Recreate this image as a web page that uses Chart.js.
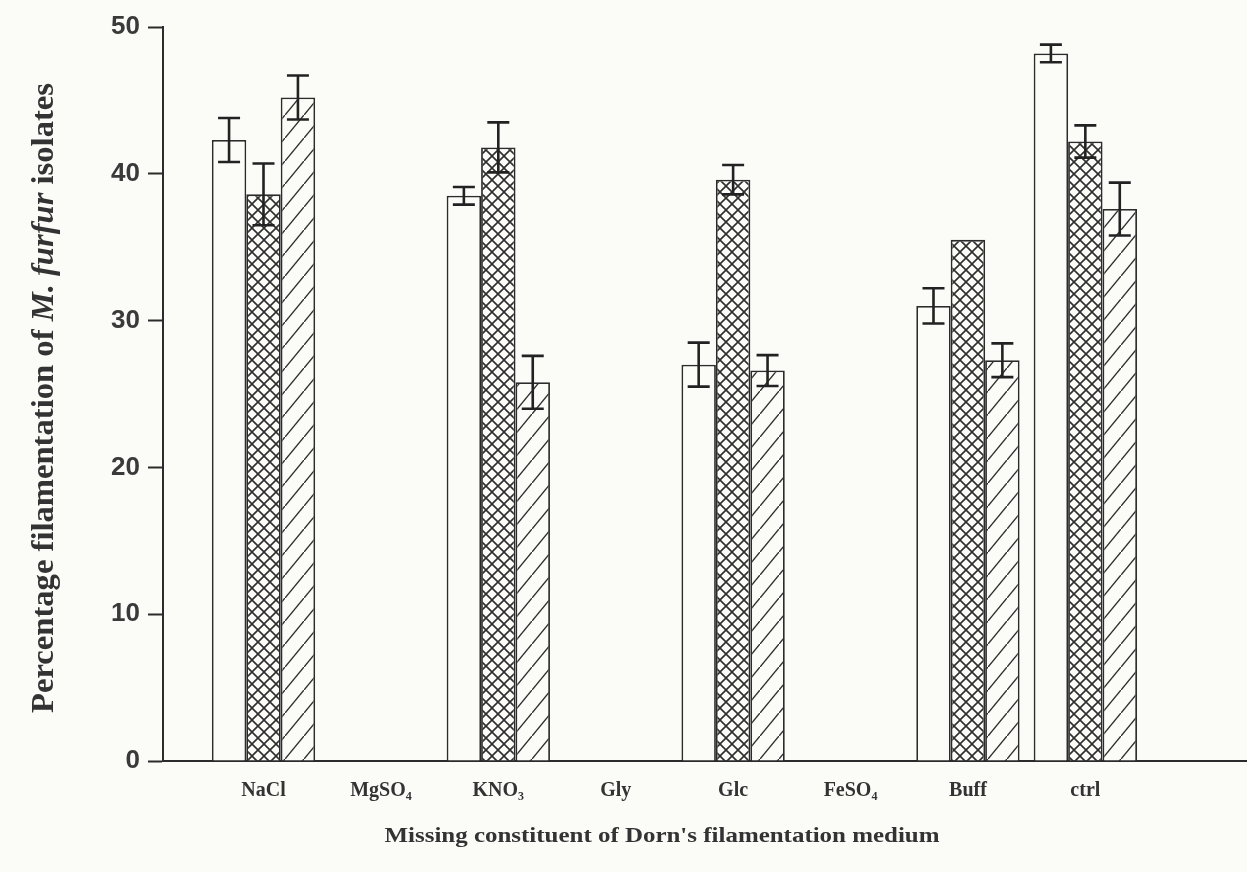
<!DOCTYPE html>
<html>
<head>
<meta charset="utf-8">
<script src="https://cdn.jsdelivr.net/npm/chart.js@4.4.1/dist/chart.umd.min.js"></script>
<style>
    body { margin: 0; background: #fbfbf8; }
    #contenedor { width: 1247px; height: 872px; }
</style>
</head>
<body>
<div id="contenedor"><canvas id="grafico" width="1247" height="872"></canvas></div>
<script>
// Datos
const categorias = ['NaCl', 'MgSO₄', 'KNO₃', 'Gly', 'Glc', 'FeSO₄', 'Buff', 'ctrl'];
const valoresBlanco = [42.3, null, 38.5, null, 27.0, null, 31.0, 48.2];
const erroresBlanco = [1.5, null, 0.6, null, 1.5, null, 1.2, 0.6];
const valoresCruzado = [38.6, null, 41.8, null, 39.6, null, 35.5, 42.2];
const erroresCruzado = [2.1, null, 1.7, null, 1.0, null, 0, 1.1];
const valoresRayado = [45.2, null, 25.8, null, 26.6, null, 27.3, 37.6];
const erroresRayado = [1.5, null, 1.8, null, 1.05, null, 1.15, 1.8];
const ticksY = [0, 10, 20, 30, 40, 50];

const colorLinea = '#2b2b2b';
const colorFondo = '#fbfbf8';

// Patron cuadriculado en diagonal (cross hatch)
function crearPatronCruzado() {
    const c = document.createElement('canvas');
    c.width = 12; c.height = 12;
    const ctx = c.getContext('2d');
    ctx.fillStyle = colorFondo;
    ctx.fillRect(0, 0, 12, 12);
    ctx.strokeStyle = '#2e2e2e';
    ctx.lineWidth = 1.6;
    ctx.beginPath();
    ctx.moveTo(-1, -1); ctx.lineTo(13, 13);
    ctx.moveTo(-1, 13); ctx.lineTo(13, -1);
    ctx.stroke();
    return ctx.createPattern(c, 'repeat');
}

// Patron de rayas diagonales
function crearPatronRayado() {
    const w = 19, h = 23;
    const c = document.createElement('canvas');
    c.width = w; c.height = h;
    const ctx = c.getContext('2d');
    ctx.fillStyle = colorFondo;
    ctx.fillRect(0, 0, w, h);
    ctx.strokeStyle = '#2e2e2e';
    ctx.lineWidth = 1.4;
    ctx.beginPath();
    ctx.moveTo(-w * 0.1, h * 1.1); ctx.lineTo(w * 1.1, -h * 0.1);
    ctx.stroke();
    return ctx.createPattern(c, 'repeat');
}

function puntos(valores) {
    return valores.map((v, i) => ({ x: i, y: v }));
}

// Barras de error
const pluginErrores = {
    id: 'barrasError',
    afterDatasetsDraw(chart) {
        const ctx = chart.ctx;
        const escalaY = chart.scales.y;
        const errores = [erroresBlanco, erroresCruzado, erroresRayado];
        const valores = [valoresBlanco, valoresCruzado, valoresRayado];
        ctx.save();
        ctx.strokeStyle = '#222';
        ctx.lineWidth = 2.6;
        errores.forEach((lista, d) => {
            const meta = chart.getDatasetMeta(d);
            lista.forEach((e, i) => {
                if (!e || valores[d][i] == null) return;
                const x = meta.data[i].x;
                const arriba = escalaY.getPixelForValue(valores[d][i] + e);
                const abajo = escalaY.getPixelForValue(valores[d][i] - e);
                ctx.beginPath();
                ctx.moveTo(x, arriba); ctx.lineTo(x, abajo);
                ctx.moveTo(x - 11, arriba); ctx.lineTo(x + 11, arriba);
                ctx.moveTo(x - 11, abajo); ctx.lineTo(x + 11, abajo);
                ctx.stroke();
            });
        });
        ctx.restore();
    }
};

// Titulos de los ejes (con cursiva en M. furfur)
const pluginTitulos = {
    id: 'titulos',
    afterDraw(chart) {
        const ctx = chart.ctx;
        ctx.save();
        ctx.fillStyle = '#333';
        ctx.textBaseline = 'middle';
        const partes = [
            ['Percentage filamentation of ', 'bold 31px "Liberation Serif"'],
            ['M. furfur', 'italic bold 31px "Liberation Serif"'],
            [' isolates', 'bold 31px "Liberation Serif"']
        ];
        let total = 0;
        partes.forEach(p => { ctx.font = p[1]; total += ctx.measureText(p[0]).width; });
        ctx.translate(45, 398);
        ctx.rotate(-Math.PI / 2);
        ctx.scale(630 / total, 1);
        let x = -total / 2;
        ctx.textAlign = 'left';
        partes.forEach(p => {
            ctx.font = p[1];
            ctx.fillText(p[0], x, 0);
            x += ctx.measureText(p[0]).width;
        });
        ctx.restore();

        ctx.save();
        ctx.fillStyle = '#333';
        ctx.font = 'bold 22px "Liberation Serif"';
        ctx.textAlign = 'center';
        ctx.textBaseline = 'middle';
        const tituloX = "Missing constituent of Dorn's filamentation medium";
        const ancho = ctx.measureText(tituloX).width;
        ctx.translate(662, 836);
        ctx.scale(555 / ancho, 1);
        ctx.fillText(tituloX, 0, 0);
        ctx.restore();
    }
};

const patronCruzado = crearPatronCruzado();
const patronRayado = crearPatronRayado();

const estiloBarra = {
    borderColor: colorLinea,
    borderWidth: 1.8,
    categoryPercentage: 0.88,
    barPercentage: 1
};

new Chart(document.getElementById('grafico').getContext('2d'), {
    type: 'bar',
    data: {
        datasets: [
            Object.assign({ label: 'serie 1', data: puntos(valoresBlanco), backgroundColor: colorFondo }, estiloBarra),
            Object.assign({ label: 'serie 2', data: puntos(valoresCruzado), backgroundColor: patronCruzado }, estiloBarra),
            Object.assign({ label: 'serie 3', data: puntos(valoresRayado), backgroundColor: patronRayado }, estiloBarra)
        ]
    },
    options: {
        responsive: false,
        animation: false,
        layout: { padding: { top: 27, right: 0, bottom: 0, left: 0 } },
        plugins: {
            legend: { display: false },
            tooltip: { enabled: false }
        },
        scales: {
            x: {
                type: 'linear',
                offset: false,
                min: -0.856,
                max: 8.377,
                afterFit: scale => { scale.height = 111; },
                grid: { display: false, drawTicks: false, offset: false },
                border: { display: true, color: colorLinea, width: 2 },
                ticks: {
                    stepSize: 1,
                    includeBounds: false,
                    autoSkip: false,
                    maxRotation: 0,
                    padding: 18,
                    color: '#333',
                    font: { family: '"Liberation Serif"', size: 20, weight: 'bold' },
                    callback: v => (Number.isInteger(v) && categorias[v]) ? categorias[v] : ''
                }
            },
            y: {
                min: 0,
                max: 50,
                afterFit: scale => { scale.width = 163; },
                afterBuildTicks: scale => { scale.ticks = ticksY.map(v => ({ value: v })); },
                grid: { drawOnChartArea: false, tickLength: 15, tickColor: colorLinea, tickWidth: 2 },
                border: { display: true, color: colorLinea, width: 2 },
                ticks: {
                    padding: 8,
                    color: '#3a3a3a',
                    font: { family: '"Liberation Sans"', size: 26, weight: 'bold' }
                }
            }
        }
    },
    plugins: [pluginErrores, pluginTitulos]
});
</script>
</body>
</html>
